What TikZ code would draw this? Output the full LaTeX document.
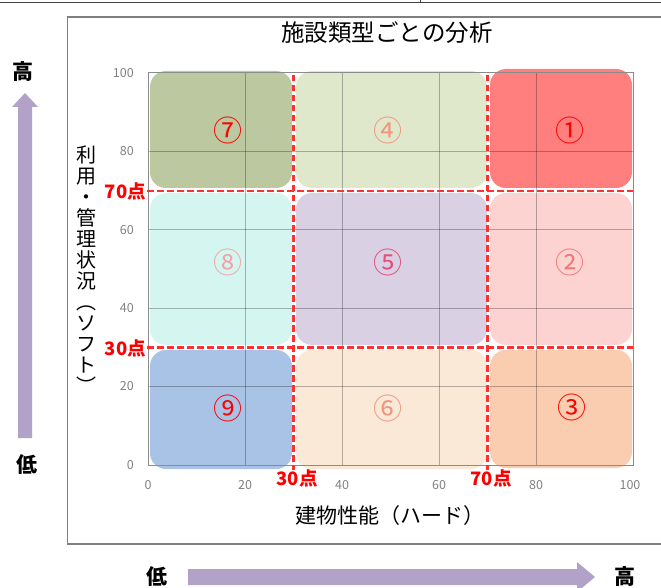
\documentclass[tikz,border=0pt]{standalone}
\usepackage{fontspec}
\setmainfont{Noto Sans CJK JP}
\definecolor{c1}{HTML}{FF7F7F}
\definecolor{c2}{HTML}{FDD3D1}
\definecolor{c3}{HTML}{FBCDB0}
\definecolor{c4}{HTML}{E0E8CC}
\definecolor{c5}{HTML}{D9D0E3}
\definecolor{c6}{HTML}{FBE9D7}
\definecolor{c7}{HTML}{BCC8A0}
\definecolor{c8}{HTML}{D5F5F0}
\definecolor{c9}{HTML}{A9C3E6}
\definecolor{n1}{HTML}{FF0000}
\definecolor{n2}{HTML}{F07878}
\definecolor{n4}{HTML}{F0957E}
\definecolor{n5}{HTML}{E0507A}
\definecolor{n8}{HTML}{EFA5A5}
\definecolor{tickgray}{HTML}{808080}
\definecolor{dashred}{HTML}{FF3030}
\definecolor{arrowpurple}{HTML}{B3A2C7}
\definecolor{framegray}{HTML}{7F7F7F}
\begin{document}
\begin{tikzpicture}[x=1pt,y=-1pt,
  box/.style={rectangle, rounded corners=16pt, draw=none, inner sep=0pt, outer sep=0pt},
  num/.style={font=\fontsize{29}{29}\selectfont, inner sep=0pt},
  tick/.style={font=\fontsize{12.5}{13}\selectfont, text=tickgray, inner sep=0pt},
  thr/.style={font=\fontsize{18.5}{19}\selectfont\bfseries, text=red, inner sep=0pt},
  reddash/.style={draw=dashred, line width=2.3pt, dash pattern=on 6.5pt off 3.5pt},
  gridline/.style={draw=black, opacity=0.28, line width=0.9pt},
  bigarrow/.style={fill=arrowpurple, draw=none},
  hilo/.style={font=\fontsize{21}{21}\selectfont\bfseries, inner sep=0pt},
  axtitle/.style={font=\fontsize{21}{21}\selectfont, inner sep=0pt}]
\useasboundingbox (0,0) rectangle (661,588);
% top table border
\draw[black!75, line width=1pt] (0,3) -- (661,3);
\draw[black!75, line width=1pt] (420,0) -- (420,3);
% outer frame
\draw[framegray, line width=1.2pt] (661,17) -- (67.7,17) -- (67.7,544) -- (661,544);
% title
\node[font=\fontsize{23.5}{24}\selectfont, inner sep=0pt] (title) at (387,33) {施設類型ごとの分析};
% boxes
\node[box, fill=c7, minimum width=142pt, minimum height=117pt] (b7) at (221,129.5) {};
\node[box, fill=c4, minimum width=191pt, minimum height=117pt] (b4) at (391.5,129.5) {};
\node[box, fill=c1, minimum width=142pt, minimum height=119pt] (b1) at (561,128.5) {};
\node[box, fill=c8, minimum width=142pt, minimum height=152pt] (b8) at (221,269) {};
\node[box, fill=c5, minimum width=191pt, minimum height=152pt] (b5) at (391.5,269) {};
\node[box, fill=c2, minimum width=142pt, minimum height=152pt] (b2) at (561,269) {};
\node[box, fill=c9, minimum width=142pt, minimum height=119pt] (b9) at (221,409.5) {};
\node[box, fill=c6, minimum width=191pt, minimum height=119pt] (b6) at (391.5,409.5) {};
\node[box, fill=c3, minimum width=142pt, minimum height=118pt] (b3) at (561,409) {};
% grid
\foreach \gx in {245,342,439,536} \draw[gridline] (\gx,72.7) -- (\gx,465);
\foreach \gy in {151.2,229.6,308,386.5} \draw[gridline] (148,\gy) -- (633,\gy);
\draw[black!45, line width=1pt] (148,72.7) rectangle (633,465);
% threshold dashed lines
\draw[reddash] (147,191) -- (633,191);
\draw[reddash] (147,347.5) -- (633,347.5);
\draw[reddash] (293.5,75) -- (293.5,470);
\draw[reddash] (487.5,75) -- (487.5,470);
% numbers
\node[num, text=n1] (l7) at (228,130) {⑦};
\node[num, text=n4] (l4) at (388,130) {④};
\node[num, text=n1] (l1) at (570,130) {①};
\node[num, text=n8] (l8) at (228,262) {⑧};
\node[num, text=n5] (l5) at (388,262) {⑤};
\node[num, text=n2] (l2) at (570,262) {②};
\node[num, text=n1] (l9) at (228,408) {⑨};
\node[num, text=n4] (l6) at (388,408) {⑥};
\node[num, text=n1] (l3) at (572,407) {③};
% threshold labels
\node[thr, anchor=east] (t70y) at (146,191) {70点};
\node[thr, anchor=east] (t30y) at (146,348) {30点};
\node[thr] (t30x) at (297,478) {30点};
\node[thr] (t70x) at (491,478) {70点};
% y ticks
\node[tick, anchor=east] (y100) at (134,72.7) {100};
\node[tick, anchor=east] (y80) at (134,151.2) {80};
\node[tick, anchor=east] (y60) at (134,229.6) {60};
\node[tick, anchor=east] (y40) at (134,308) {40};
\node[tick, anchor=east] (y20) at (134,386.5) {20};
\node[tick, anchor=east] (y0) at (134,465) {0};
% x ticks
\node[tick] (x0) at (148,485) {0};
\node[tick] (x20) at (245,485) {20};
\node[tick] (x40) at (342,485) {40};
\node[tick] (x60) at (439,485) {60};
\node[tick] (x80) at (536,485) {80};
\node[tick] (x100) at (630,485) {100};
% axis titles
\node[axtitle] (xtitle) at (390,516) {建物性能（ハード）};
\node[font=\fontsize{20}{21}\selectfont, inner sep=0pt, align=center] (ytitle) at (86,270)
  {利\\用\\・\\管\\理\\状\\況\\︵\\ソ\\フ\\ト\\︶};
% big arrows
\draw[bigarrow] (18,438) -- (18,107) -- (12,107) -- (25,93) -- (38,107) -- (32,107) -- (32,438) -- cycle;
\draw[bigarrow] (188,569) -- (577,569) -- (577,562) -- (595,577) -- (577,592) -- (577,585) -- (188,585) -- cycle;
\node[hilo] (hiY) at (23,72) {高};
\node[hilo] (loY) at (27,465) {低};
\node[hilo] (loX) at (157,577) {低};
\node[hilo] (hiX) at (625,577) {高};
\end{tikzpicture}
\end{document}
